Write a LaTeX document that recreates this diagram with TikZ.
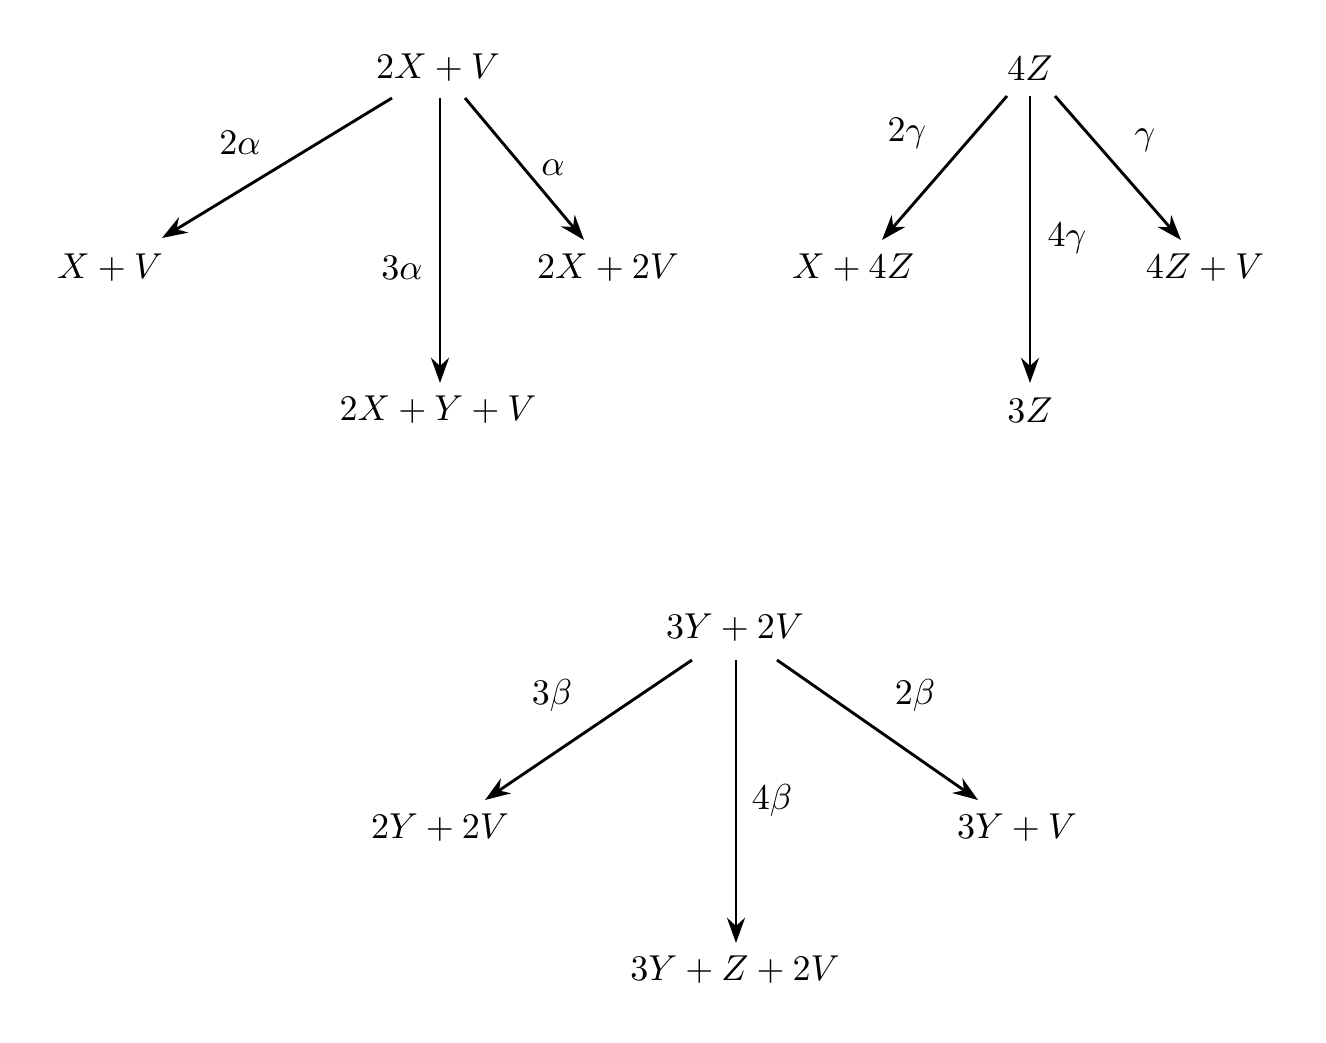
\documentclass[tikz,border=0pt]{standalone}
\usetikzlibrary{arrows.meta}
\begin{document}
\begin{tikzpicture}[x=0.2776pt,y=-0.2776pt,
  arr/.style={-{Stealth[length=7pt,width=5pt]},line width=0.8pt},
  st/.style={inner sep=4pt}]
\useasboundingbox (0,0) rectangle (1326,1043);
\node[st] (a) at (438,68) {$2X+V$};
\node[st] (a1) at (110,268) {$X+V$};
\node[st] (a2) at (608,268) {$2X+2V$};
\node[st] (a3) at (438,410) {$2X+Y+V$};
\node[st] (b) at (1030,68) {$4Z$};
\node[st] (b1) at (853,268) {$X+4Z$};
\node[st] (b2) at (1205,268) {$4Z+V$};
\node[st] (b3) at (1030,410) {$3Z$};
\node[st] (c) at (735,628) {$3Y+2V$};
\node[st] (c1) at (440,828) {$2Y+2V$};
\node[st] (c2) at (1017,828) {$3Y+V$};
\node[st] (c3) at (735,970) {$3Y+Z+2V$};
\coordinate (as1) at (392,98); \coordinate (ae1) at (162,238);
\coordinate (as2) at (465,98); \coordinate (ae2) at (584,240);
\coordinate (as3) at (440,98); \coordinate (ae3) at (440,383);
\draw[arr] (as1) -- (ae1);
\draw[arr] (as2) -- (ae2);
\draw[arr] (as3) -- (ae3);
\coordinate (bs1) at (1007,96); \coordinate (be1) at (882,240);
\coordinate (bs2) at (1055,96); \coordinate (be2) at (1181,240);
\coordinate (bs3) at (1030,96); \coordinate (be3) at (1030,383);
\draw[arr] (bs1) -- (be1);
\draw[arr] (bs2) -- (be2);
\draw[arr] (bs3) -- (be3);
\coordinate (cs1) at (692,660); \coordinate (ce1) at (485,800);
\coordinate (cs2) at (777,660); \coordinate (ce2) at (978,800);
\coordinate (cs3) at (736,660); \coordinate (ce3) at (736,943);
\draw[arr] (cs1) -- (ce1);
\draw[arr] (cs2) -- (ce2);
\draw[arr] (cs3) -- (ce3);
\node (l1) at (240,143) {$2\alpha$};
\node (l2) at (553,168) {$\alpha$};
\node (l3) at (402,268) {$3\alpha$};
\node (l4) at (907,133) {$2\gamma$};
\node (l5) at (1145,140) {$\gamma$};
\node (l6) at (1067,238) {$4\gamma$};
\node (l7) at (552,695) {$3\beta$};
\node (l8) at (915,695) {$2\beta$};
\node (l9) at (772,800) {$4\beta$};
\end{tikzpicture}
\end{document}
